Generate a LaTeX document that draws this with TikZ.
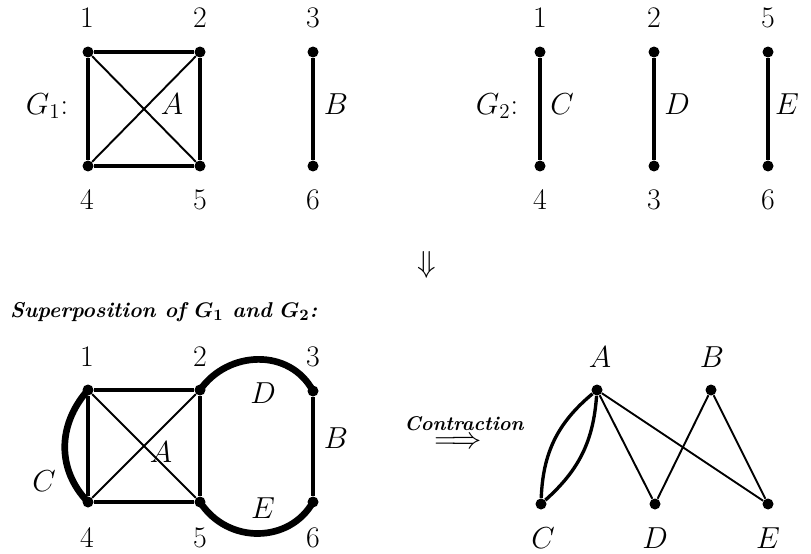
\documentclass[tikz,border=0pt]{standalone}
\usepackage{amsmath,bm}
\usetikzlibrary{positioning}
\begin{document}
\begin{tikzpicture}[x=0.02cm, y=-0.02cm,
    every node/.style={font=\fontsize{17}{20}\selectfont},
    vtx/.style={circle, fill=black, inner sep=0pt, minimum size=0.22cm},
    edge/.style={line width=2pt, black},
    thin edge/.style={line width=1.1pt, black},
    fat edge/.style={line width=3.8pt, black},
    lens/.style={line width=1.9pt, black},
    caption/.style={font=\fontsize{12.2}{14}\selectfont\bfseries\itshape}
  ]
    \useasboundingbox (0,0) rectangle (811,554);

    % G1
    \node[vtx] (a1) at (88,52) {};
    \node[vtx] (a2) at (200,52) {};
    \node[vtx] (a3) at (313,52) {};
    \node[vtx] (a4) at (88,166) {};
    \node[vtx] (a5) at (200,166) {};
    \node[vtx] (a6) at (313,166) {};
    \draw[edge] (a1) -- (a2) -- (a5) -- (a4) -- (a1);
    \draw[thin edge] (a1) -- (a5);
    \draw[thin edge] (a2) -- (a4);
    \draw[edge] (a3) -- (a6);
    \node (la1) at (87,18) {1};
    \node (la2) at (200,18) {2};
    \node (la3) at (313,18) {3};
    \node (la4) at (87,200) {4};
    \node (la5) at (200,200) {5};
    \node (la6) at (313,200) {6};
    \node (g1) at (47,106) {$G_1$:};
    \node (ea) at (172,104) {$A$};
    \node (eb) at (336,104) {$B$};

    % G2
    \node[vtx] (b1) at (540,52) {};
    \node[vtx] (b4) at (540,166) {};
    \node[vtx] (b2) at (654,52) {};
    \node[vtx] (b3) at (654,166) {};
    \node[vtx] (b5) at (768,52) {};
    \node[vtx] (b6) at (768,166) {};
    \draw[edge] (b1) -- (b4);
    \draw[edge] (b2) -- (b3);
    \draw[edge] (b5) -- (b6);
    \node (lb1) at (540,18) {1};
    \node (lb4) at (540,200) {4};
    \node (lb2) at (654,18) {2};
    \node (lb3) at (654,200) {3};
    \node (lb5) at (768,18) {5};
    \node (lb6) at (768,200) {6};
    \node (g2) at (497,106) {$G_2$:};
    \node (ec) at (562,104) {$C$};
    \node (ed) at (677,104) {$D$};
    \node (ee) at (787,104) {$E$};

    \node (down) at (427,265) {$\Downarrow$};

    % Superposition
    \node[caption, anchor=west] (sup) at (4,312) {Superposition of $\bm{G_1}$ and $\bm{G_2}$:};
    \node[vtx] (s1) at (88,390) {};
    \node[vtx] (s2) at (200,390) {};
    \node[vtx] (s3) at (313,391) {};
    \node[vtx] (s4) at (88,502) {};
    \node[vtx] (s5) at (200,502) {};
    \node[vtx] (s6) at (313,502) {};
    \draw[edge] (s1) -- (s2) -- (s5) -- (s4) -- (s1);
    \draw[thin edge] (s1) -- (s5);
    \draw[thin edge] (s2) -- (s4);
    \draw[edge] (s3) -- (s6);
    \draw[fat edge] (s1.center) .. controls (57,425) and (57,470) .. (s4.center);
    \draw[fat edge] (s2.center) .. controls (228,350) and (290,348) .. (s3.center);
    \draw[fat edge] (s5.center) .. controls (228,545) and (290,543) .. (s6.center);
    \node (ls1) at (87,357) {1};
    \node (ls2) at (200,357) {2};
    \node (ls3) at (313,357) {3};
    \node (ls4) at (87,538) {4};
    \node (ls5) at (200,538) {5};
    \node (ls6) at (313,538) {6};
    \node (sc) at (44,481) {$C$};
    \node (sa) at (161,452) {$A$};
    \node (sb) at (336,438) {$B$};
    \node (sd) at (263,393) {$D$};
    \node (se) at (263,508) {$E$};

    % Contraction
    \node[caption, font=\fontsize{11.3}{13}\selectfont\bfseries\itshape] (con) at (464,424) {Contraction};
    \node (arr) at (458,443) {$\Longrightarrow$};

    \node[vtx] (cA) at (597,390) {};
    \node[vtx] (cB) at (711,390) {};
    \node[vtx] (cC) at (541,504) {};
    \node[vtx] (cD) at (655,504) {};
    \node[vtx] (cE) at (768,504) {};
    \draw[lens] (cA) to[bend right=24] (cC);
    \draw[lens] (cA) to[bend left=22] (cC);
    \draw[thin edge] (cA) -- (cD);
    \draw[thin edge] (cA) -- (cE);
    \draw[thin edge] (cB) -- (cD);
    \draw[thin edge] (cB) -- (cE);
    \node (lA) at (600,357) {$A$};
    \node (lB) at (712,357) {$B$};
    \node (lC) at (543,538) {$C$};
    \node (lD) at (655,538) {$D$};
    \node (lE) at (768,538) {$E$};
  \end{tikzpicture}
\end{document}
